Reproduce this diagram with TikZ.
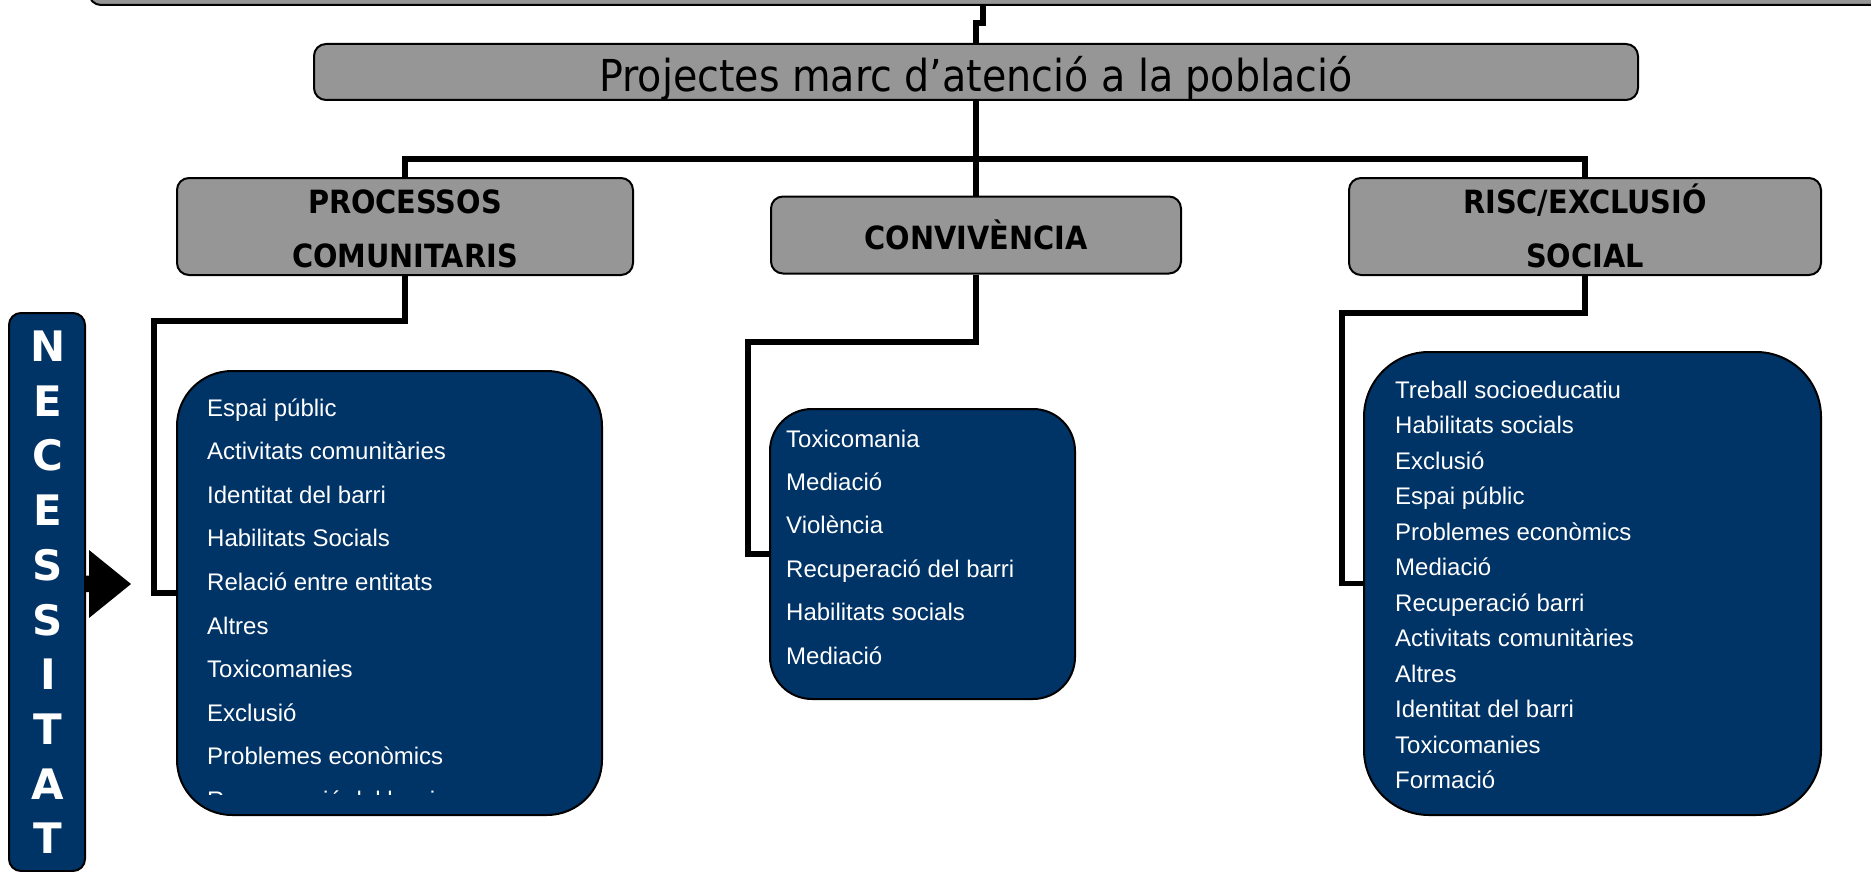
\documentclass[tikz,border=0pt]{standalone}
\usepackage{fontspec}
\usetikzlibrary{backgrounds}
\setmainfont{Liberation Sans}
\newfontfamily\headfont{DejaVu Sans Condensed}
\newfontfamily\necfont{DejaVu Sans}
\definecolor{grayfill}{RGB}{150,150,150}
\definecolor{navy}{RGB}{0,51,102}
\begin{document}
\begin{tikzpicture}[x=1pt,y=-1pt,
  graybox/.style={draw=black, line width=2pt, fill=grayfill, rounded corners=12pt, inner sep=0pt},
  bluebox/.style={draw=black, line width=2pt, fill=navy, inner sep=0pt},
  conn/.style={draw=black, line width=5.5pt},
  item/.style={anchor=base west, text=white, inner sep=0pt, font=\fontsize{24}{24}\selectfont},
  head/.style={anchor=base, inner sep=0pt, font=\headfont\bfseries\fontsize{32}{32}\selectfont},
  nec/.style={anchor=base, inner sep=0pt, text=white, font=\necfont\bfseries\fontsize{42}{42}\selectfont}]
\useasboundingbox (0,0) rectangle (1871,872);
\clip (0,0) rectangle (1871,872);

% ---------- boxes ----------
\node[graybox, minimum width=1830pt, minimum height=80pt] (top) at (1004,-35) {};
\node[graybox, minimum width=1324pt, minimum height=56pt] (proj) at (976,72) {};
\node[graybox, minimum width=456pt, minimum height=97pt] (proc) at (405,226.5) {};
\node[graybox, minimum width=410pt, minimum height=77pt] (conv) at (976,235) {};
\node[graybox, minimum width=472pt, minimum height=97pt] (risc) at (1585,226.5) {};
\node[bluebox, rounded corners=55pt, minimum width=425pt, minimum height=444pt] (b1) at (389.5,593) {};
\node[bluebox, rounded corners=42pt, minimum width=305pt, minimum height=290pt] (b2) at (922.5,554) {};
\node[bluebox, rounded corners=65pt, minimum width=457pt, minimum height=463pt] (b3) at (1592.5,583.5) {};

% ---------- connectors ----------
\coordinate (j1) at (983,23);
\coordinate (bus) at (976,159);
\coordinate (lc) at (154,321);
\coordinate (mc) at (748,342);
\coordinate (rc) at (1342,313);
\begin{scope}[on background layer]
\draw[conn] (j1 |- top.south) -- (j1) -- (j1 -| proj.north) -- (proj.north);
\draw[conn] (proj.south) -- (conv.north);
\draw[conn] (proc.north) |- (bus) -| (risc.north);
\draw[conn] (proc.south) |- (lc) |- (b1.west);
\draw[conn] (conv.south) |- (mc) |- (b2.west);
\draw[conn] (risc.south) |- (rc) |- (b3.west);
\end{scope}

% ---------- texts ----------
\node[anchor=base, inner sep=0pt, font=\headfont\fontsize{44}{44}\selectfont] (projT) at (976,92) {Projectes marc d’atenció a la població};
\node[head] (procT1) at (405,213) {PROCESSOS};
\node[head] (procT2) at (405,267) {COMUNITARIS};
\node[head] (convT) at (976,249) {CONVIVÈNCIA};
\node[head] (riscT1) at (1585,213) {RISC/EXCLUSIÓ};
\node[head] (riscT2) at (1585,267) {SOCIAL};

\begin{scope}
\clip (177,371) rectangle (602,794);
\foreach \t [count=\k] in {Espai públic, Activitats comunitàries, Identitat del barri, Habilitats Socials, Relació entre entitats, Altres, Toxicomanies, Exclusió, Problemes econòmics, Recuperació del barri}
  \node[item] (pa\k) at ({207},{416+43.6*(\k-1)}) {\t};
\end{scope}

\foreach \t [count=\k] in {Toxicomania, Mediació, Violència, Recuperació del barri, Habilitats socials, Mediació}
  \node[item] (pb\k) at ({786},{447+43.4*(\k-1)}) {\t};

\foreach \t [count=\k] in {Treball socioeducatiu, Habilitats socials, Exclusió, Espai públic, Problemes econòmics, Mediació, Recuperació barri, Activitats comunitàries, Altres, Identitat del barri, Toxicomanies, Formació}
  \node[item] (pc\k) at ({1395},{398+35.5*(\k-1)}) {\t};

% ---------- NECESSITAT ----------
\fill[black] (70,575.5) -- (89,575.5) -- (89,550) -- (131,584) -- (89,618) -- (89,592) -- (70,592) -- cycle;
\node[bluebox, rounded corners=12pt, minimum width=76pt, minimum height=558pt] (necbox) at (47,592) {};
\foreach \l [count=\k] in {N,E,C,E,S,S,I,T,A,T}
  \node[nec] (n\k) at ({48},{361.5+54.7*(\k-1)}) {\l};
\end{tikzpicture}
\end{document}
